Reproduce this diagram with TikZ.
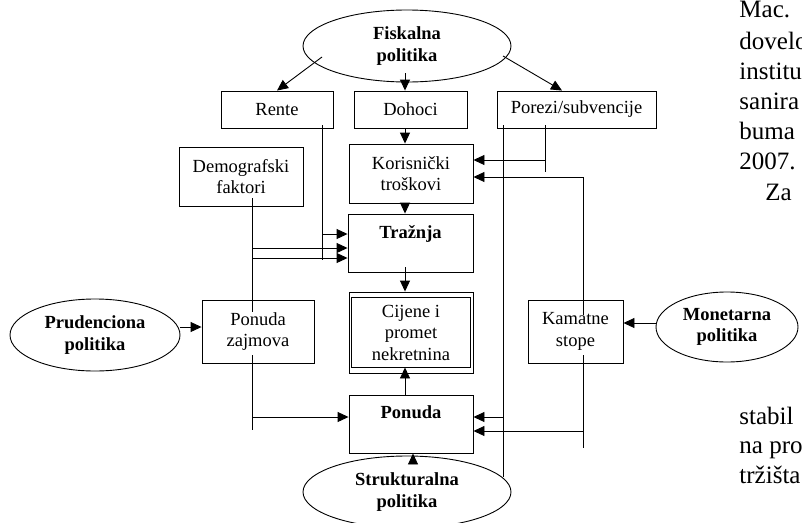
\documentclass[tikz,border=0pt]{standalone}
\usepackage{fontspec}
\setmainfont{Liberation Serif}
\usetikzlibrary{arrows.meta}
\usetikzlibrary{calc}
\usetikzlibrary{shapes.geometric}
\newcommand{\dsize}{\fontsize{18.5}{21.5}\selectfont}
\newcommand{\bodysize}{\fontsize{25}{30}\selectfont}
\tikzset{box/.style = {draw, rectangle, align=center, inner sep=0, font=\dsize}}
\tikzset{pol/.style = {draw, ellipse, align=center, inner sep=0, font=\dsize\bfseries}}
\tikzset{arr/.style = {-{Triangle[length=11pt, width=10pt]}}}
\tikzset{headtext/.style = {anchor=north, inner sep=0, yshift=-11pt, font=\dsize\bfseries}}
\tikzset{bodyline/.style = {anchor=base west, inner sep=0, font=\bodysize}}

\begin{document}
\begin{tikzpicture}[x=1pt, y=-1pt, line width=0.9pt]
      \useasboundingbox (0,0) rectangle (802,522);
      \clip (0,0) rectangle (802,522);

      % politike
      \node[pol, minimum width=208, minimum height=72] (fisk) at (407,46) {Fiskalna\\politika};
      \node[pol, minimum width=170, minimum height=72] (prud) at (95,335) {Prudenciona\\politika};
      \node[pol, minimum width=142, minimum height=70] (monet) at (727,327) {Monetarna\\politika};
      \node[pol, minimum width=208, minimum height=72] (struk) at (407,492) {Strukturalna\\politika};

      % okviri
      \node[box, minimum width=112, minimum height=37] (rente) at (277,109.5) {Rente};
      \node[box, minimum width=113, minimum height=37] (dohoci) at (410.5,109.5) {Dohoci};
      \node[box, minimum width=159, minimum height=37] (porezi) at (576.5,109.5) {Porezi/subvencije};
      \node[box, minimum width=124, minimum height=59] (demo) at (241,176.5) {Demografski\\faktori};
      \node[box, minimum width=124, minimum height=59] (koris) at (411,173.5) {Korisnički\\troškovi};
      \node[box, minimum width=125, minimum height=58,
            label={[headtext, name=traztxt]north:Tražnja}] (traz) at (410.5,243) {};
      \node[box, minimum width=124, minimum height=81] (cij) at (411,332.5) {Cijene i\\promet\\nekretnina};
      \draw ($(cij.north west)+(3,6)$) rectangle ($(cij.south east)+(-3,-6)$);
      \node[box, minimum width=112, minimum height=63] (zajm) at (258,331.5) {Ponuda\\zajmova};
      \node[box, minimum width=95, minimum height=63] (kamat) at (575.5,331.5) {Kamatne\\stope};
      \node[box, minimum width=124, minimum height=58,
            label={[headtext, name=pontxt]north:Ponuda}] (pon) at (411,424) {};

      \coordinate (sp) at (405,0);
      \coordinate (sx) at (413,0);
      \coordinate (dx) at (252,0);
      \coordinate (rx) at (322,0);
      \coordinate (px) at (545,0);
      \coordinate (lx) at (503,0);
      \coordinate (kx) at (583,0);

      % fiskalna politika
      \draw[arr] ($(fisk)+(-85,11)$) -- (rente.north);
      \draw[arr] ($(fisk)+(-2,27)$) -- (dohoci.north -| sp);
      \draw[arr] ($(fisk)+(96,10)$) -- ($(porezi.north)+(-14.5,0)$);

      % srednji stupac
      \draw[arr] (dohoci.south -| sp) -- (koris.north -| sp);
      \draw[arr] (koris.south -| sp) -- (traz.north -| sp);
      \draw[arr] ($(traz.south -| sp)+(0,-5)$) -- (cij.north -| sp);
      \draw[arr] (pon.north -| sp) -- ($(cij.south -| sp)+(0,-6)$);
      \draw[arr] ($(struk.north -| sx)+(0,6)$) -- (pon.south -| sx);

      % lijeva strana
      \draw ($(demo.south -| dx)+(0,-8)$) -- ($(zajm.north -| dx)+(0,12)$);
      \draw ($(zajm.south -| dx)+(0,-8)$) -- ($(zajm.south -| dx)+(0,67)$);
      \draw ($(rente.south -| rx)+(0,-3)$) -- ($(traz.west -| rx)+(0,17)$);
      \draw[arr] ($(traz.west -| rx)+(0,-9)$) -- ($(traz.west)+(0,-9)$);
      \draw[arr] ($(traz.west -| dx)+(0,5)$) -- ($(traz.west)+(0,5)$);
      \draw[arr] ($(traz.west -| dx)+(0,15)$) -- ($(traz.west)+(0,15)$);
      \draw[arr] ($(pon.west -| dx)+(0,-7)$) -- ($(pon.west)+(0,-7)$);
      \draw[arr] ($(prud.east)+(0,-8)$) -- ($(zajm.west)+(0,-4.5)$);

      % desna strana
      \draw ($(porezi.south -| px)+(0,-3)$) -- ($(koris.east -| px)+(0,-1.5)$);
      \draw[arr] ($(koris.east -| px)+(0,-13.5)$) -- ($(koris.east)+(0,-13.5)$);
      \draw[arr] ($(kamat.north -| kx)+(0,15)$) |- ($(koris.east)+(0,3.5)$);
      \draw ($(kamat.south -| kx)+(0,-8)$) -- ($(pon.south -| kx)+(0,-5)$);
      \draw[arr] ($(pon.east -| kx)+(0,7)$) -- ($(pon.east)+(0,7)$);
      \draw ($(porezi.south -| lx)+(0,-3)$) -- ($(struk)+(96,-15)$);
      \draw[arr] ($(pon.east -| lx)+(0,-7)$) -- ($(pon.east)+(0,-7)$);
      \draw[arr] ($(monet.west)+(0,-4)$) -- ($(kamat.east)+(0,-8.5)$);

      % tekst stranice
      \node[bodyline] (t1) at (739,17) {Mac.};
      \node[bodyline] (t2) at (739,49) {dovelo};
      \node[bodyline] (t3) at (739,79) {institu};
      \node[bodyline] (t4) at (739,109) {sanira};
      \node[bodyline] (t5) at (739,139) {buma};
      \node[bodyline] (t6) at (739,169) {2007.};
      \node[bodyline] (t7) at (765,200) {Za};
      \node[bodyline] (t8) at (739,424) {stabil};
      \node[bodyline] (t9) at (739,453) {na pro};
      \node[bodyline] (t10) at (739,483) {tržišta};
    \end{tikzpicture}
\end{document}
